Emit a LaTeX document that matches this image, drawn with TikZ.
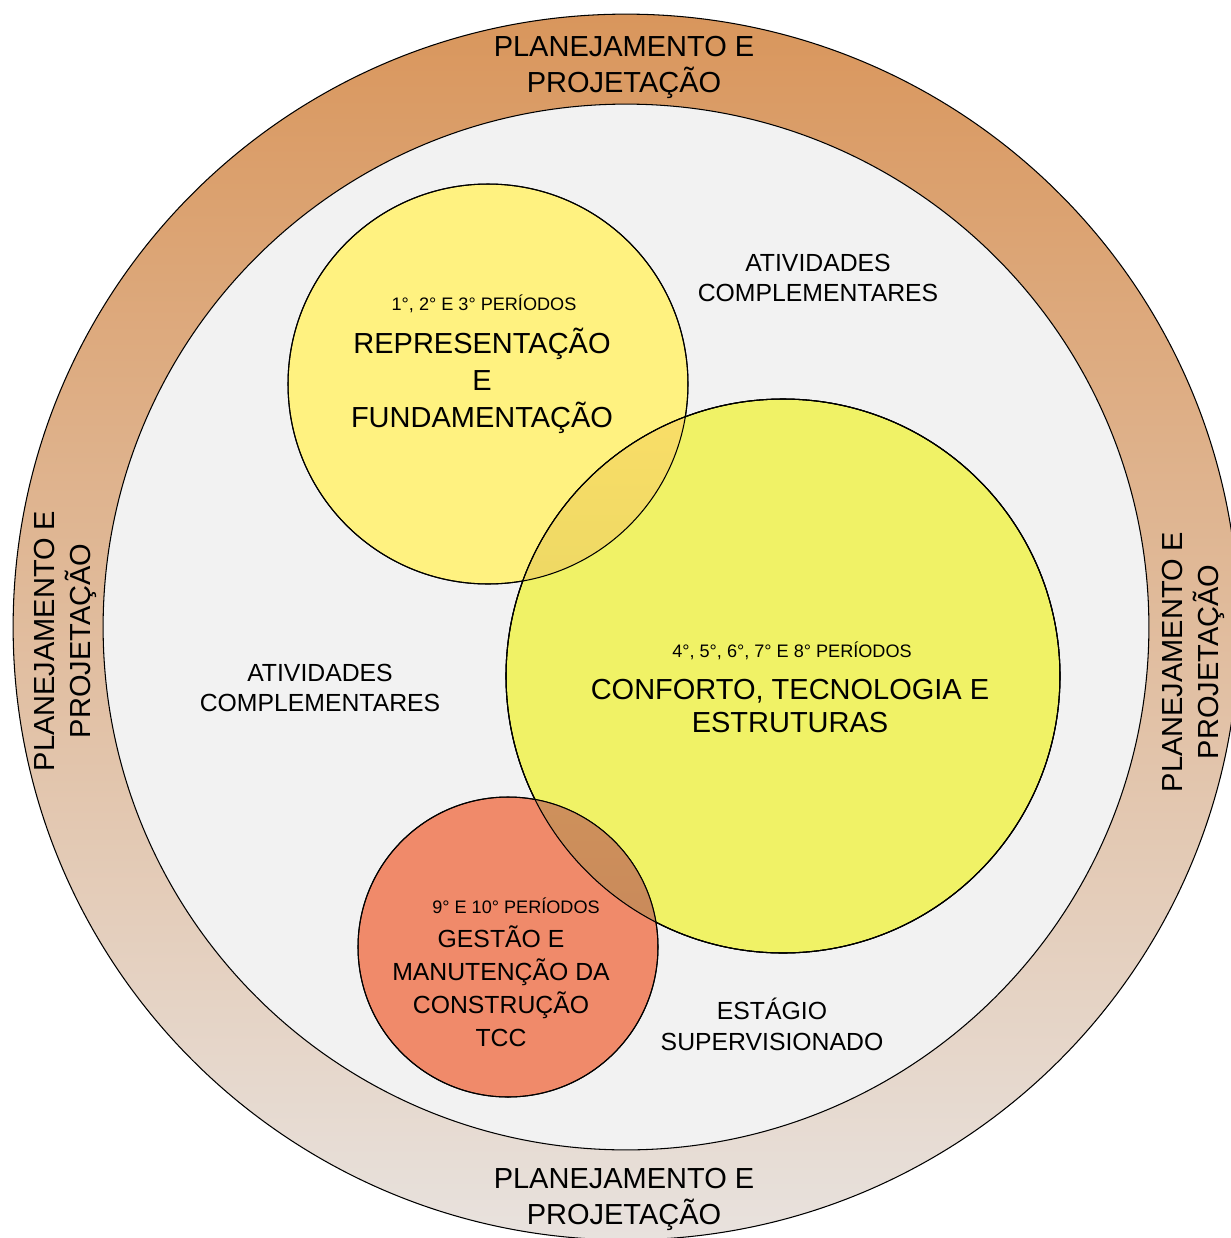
\documentclass[tikz,border=0pt]{standalone}
\usepackage{fontspec}
\setmainfont{Liberation Sans}
\usepackage{xcolor}
\usetikzlibrary{positioning}

\definecolor{ringtop}{RGB}{217,150,92}
\definecolor{ringmid}{RGB}{240,201,164}
\definecolor{ringbot}{RGB}{232,226,222}
\definecolor{innergrey}{RGB}{242,242,242}
\definecolor{repcol}{RGB}{255,242,128}
\definecolor{concol}{RGB}{240,242,102}
\definecolor{gescol}{RGB}{240,138,106}
\definecolor{ovtop}{RGB}{250,222,104}
\definecolor{ovbot}{RGB}{214,206,92}
\definecolor{ovgtop}{RGB}{222,168,96}
\definecolor{ovgbot}{RGB}{200,136,90}

\tikzset{
  area/.style={circle, draw=black, line width=0.6pt, inner sep=0pt},
  ringlabel/.style={align=center, inner sep=0pt, font=\fontsize{16.5}{20.5}\selectfont},
  titlelabel/.style={align=center, inner sep=0pt, font=\fontsize{16.5}{21}\selectfont},
  sidelabel/.style={align=center, inner sep=0pt, font=\fontsize{14.1}{17.6}\selectfont},
  periodlabel/.style={inner sep=0pt, font=\fontsize{10.3}{12}\selectfont}
}

\begin{document}
\begin{tikzpicture}[x=0.02cm, y=-0.02cm]
  \useasboundingbox (0,0) rectangle (1231,1238);
  \clip (0,0) rectangle (1231,1238);

  % outer ring and inner field
  \node[area, top color=ringtop, middle color=ringmid, bottom color=ringbot, minimum size=24.52cm] (ring) at (626,627) {};
  \node[area, fill=innergrey, minimum size=20.92cm] (field) at (626,627) {};

  % ring labels
  \node[ringlabel] (pptop) at (624,67) {PLANEJAMENTO E\\PROJETAÇÃO};
  \node[ringlabel] (ppbottom) at (624,1199) {PLANEJAMENTO E\\PROJETAÇÃO};
  \node[ringlabel, rotate=90] (ppleft) at (65,641) {PLANEJAMENTO E\\PROJETAÇÃO};
  \node[ringlabel, rotate=90] (ppright) at (1193,662) {PLANEJAMENTO E\\PROJETAÇÃO};

  % circles of the periods
  \node[area, fill=repcol, minimum size=8cm] (repfund) at (488,384) {};
  \node[area, fill=concol, minimum size=11.08cm] (conforto) at (783,676) {};
  \begin{scope}
    \clip (repfund.center) circle [radius=200];
    \shade[top color=ovtop, bottom color=ovbot] (conforto.center) circle [radius=277];
  \end{scope}
  \draw[line width=0.6pt] (repfund.center) circle [radius=200];
  \draw[line width=0.6pt] (conforto.center) circle [radius=277];

  \node[area, fill=gescol, minimum size=6cm] (gestao) at (508,947) {};
  \begin{scope}
    \clip (gestao.center) circle [radius=150];
    \shade[top color=ovgtop, bottom color=ovgbot] (conforto.center) circle [radius=277];
  \end{scope}
  \draw[line width=0.6pt] (gestao.center) circle [radius=150];
  \draw[line width=0.6pt] (conforto.center) circle [radius=277];

  % texts inside the circles
  \node[periodlabel] (repper) at (484,304) {1°, 2° E 3° PERÍODOS};
  \node[titlelabel] (reptitle) at (482,381) {REPRESENTAÇÃO\\E\\FUNDAMENTAÇÃO};
  \node[periodlabel] (conper) at (792,651) {4°, 5°, 6°, 7° E 8° PERÍODOS};
  \node[titlelabel, font=\fontsize{16.5}{19.3}\selectfont] (contitle) at (790,706) {CONFORTO, TECNOLOGIA E\\ESTRUTURAS};
  \node[periodlabel] (gesper) at (516,906) {9° E 10° PERÍODOS};
  \node[sidelabel, font=\fontsize{14.1}{18.7}\selectfont] (gestitle) at (501,986) {GESTÃO E\\MANUTENÇÃO DA\\CONSTRUÇÃO\\TCC};

  % texts of the field
  \node[sidelabel] (ativtop) at (818,278) {ATIVIDADES\\COMPLEMENTARES};
  \node[sidelabel] (ativleft) at (320,688) {ATIVIDADES\\COMPLEMENTARES};
  \node[sidelabel] (estagio) at (772,1024) {ESTÁGIO\\SUPERVISIONADO};
\end{tikzpicture}
\end{document}
